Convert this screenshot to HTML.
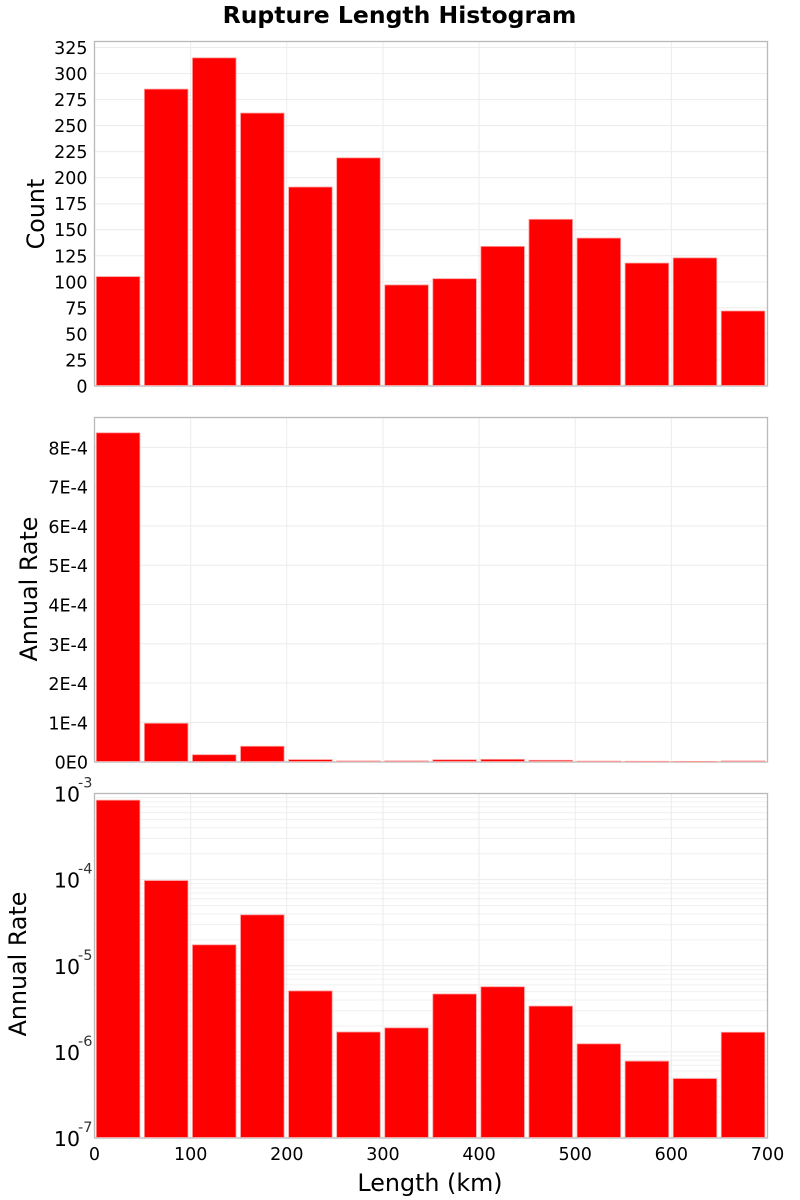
<!DOCTYPE html>
<html lang="en">
<head>
<meta charset="utf-8">
<title>Rupture Length Histogram</title>
<style>
html,body{margin:0;padding:0;background:#fff;}
#chart{display:block;width:800px;height:1200px;font-family:"DejaVu Sans","Liberation Sans",sans-serif;}
</style>
</head>
<body>
<svg id="chart" xmlns="http://www.w3.org/2000/svg" width="800" height="1200" viewBox="0 0 800 1200"></svg>
<script>
var binStarts = [0, 50, 100, 150, 200, 250, 300, 350, 400, 450, 500, 550, 600, 650];
var countValues = [105, 285, 315, 262, 191, 219, 97, 103, 134, 160, 142, 118, 123, 72];
var rateValues = [8.37e-4, 9.75e-5, 1.75e-5, 3.9e-5, 5.1e-6, 1.7e-6, 1.9e-6, 4.7e-6, 5.7e-6, 3.4e-6, 1.24e-6, 7.8e-7, 4.9e-7, 1.69e-6];
var xTicks = [0, 100, 200, 300, 400, 500, 600, 700];
var countTicks = [0, 25, 50, 75, 100, 125, 150, 175, 200, 225, 250, 275, 300, 325];
var rateTicks = [0, 1e-4, 2e-4, 3e-4, 4e-4, 5e-4, 6e-4, 7e-4, 8e-4];
var rateTickLabels = ['0E0', '1E-4', '2E-4', '3E-4', '4E-4', '5E-4', '6E-4', '7E-4', '8E-4'];
var logDecades = [-7, -6, -5, -4, -3];
var logMinors = [2, 3, 4, 5, 6, 7, 8, 9];

var NS = 'http://www.w3.org/2000/svg';
var svg = document.getElementById('chart');
var LEFT = 94.5, RIGHT = 767.5, XMAX = 700;
var GRID = '#ececec', MINOR = '#f0f0f0', FRAME = '#b9b9b9';
var BAR_INSET = 1.9, BAR_W = 45.3;

function xScale(v) { return LEFT + (v / XMAX) * (RIGHT - LEFT); }
function linearY(top, bottom, max) {
  return function (v) { return bottom - (v / max) * (bottom - top); };
}
function logY(top, bottom, minExp, maxExp) {
  return function (v) {
    return bottom - ((Math.log(v) / Math.LN10 - minExp) / (maxExp - minExp)) * (bottom - top);
  };
}
function make(tag, attrs, parent) {
  var el = document.createElementNS(NS, tag);
  for (var k in attrs) { el.setAttribute(k, attrs[k]); }
  parent.appendChild(el);
  return el;
}
function group(parent, name) {
  var g = make('g', {}, parent);
  
  
  return g;
}
function hLine(parent, y, color, name) {
  var l = make('line', { x1: LEFT, x2: RIGHT, y1: y, y2: y, stroke: color, 'stroke-width': 1 }, parent);
  
  
}
function vGrid(parent, top, bottom) {
  xTicks.forEach(function (t) {
    if (t === 0 || t === XMAX) { return; }
    var l = make('line', { x1: xScale(t), x2: xScale(t), y1: top, y2: bottom, stroke: GRID, 'stroke-width': 1 }, parent);
    
    
  });
}
function bars(parent, values, y, baseY) {
  values.forEach(function (v, i) {
    var x = xScale(binStarts[i] + BAR_INSET);
    var w = xScale(binStarts[i] + BAR_INSET + BAR_W) - x;
    var top = y(v);
    var r = make('rect', { x: x, y: top, width: w, height: Math.max(baseY - top, 0.4), fill: '#ff0000', stroke: '#ff9a9a', 'stroke-width': 0.8 }, parent);
    
    
  });
}
function frame(parent, top, bottom) {
  var r = make('rect', { x: LEFT, y: top, width: RIGHT - LEFT, height: bottom - top, fill: 'none', stroke: FRAME, 'stroke-width': 1.3 }, parent);
  
  
}
function label(parent, x, y, text, size, anchor, name) {
  var t = make('text', { x: x, y: y, 'font-size': size, 'text-anchor': anchor, fill: '#000' }, parent);
  t.textContent = text;
  
  
  return t;
}
function yTitle(parent, x, cy, text, name) {
  var t = label(parent, x, cy, text, 23.8, 'middle', name);
  t.setAttribute('transform', 'rotate(-90 ' + x + ' ' + cy + ')');
}

/* Title */
var title = label(svg, 399.5, 23, 'Rupture Length Histogram', 23.5, 'middle', 'chart-title');
title.setAttribute('font-weight', 'bold');

/* Panel 1: count */
var p1 = group(svg, 'count-panel');
var P1_TOP = 41.5, P1_BOTTOM = 386;
var y1 = linearY(P1_TOP, P1_BOTTOM, 330.7);
countTicks.forEach(function (t) {
  if (t !== 0) { hLine(p1, y1(t), GRID, 'count-gridline'); }
});
vGrid(p1, P1_TOP, P1_BOTTOM);
frame(p1, P1_TOP, P1_BOTTOM);
bars(p1, countValues, y1, P1_BOTTOM - 0.6);
countTicks.forEach(function (t) {
  label(p1, 87.5, y1(t) + 6.5, String(t), 17.5, 'end', 'count-tick-label');
});
yTitle(p1, 44, 214, 'Count', 'count-axis-title');

/* Panel 2: linear rate */
var p2 = group(svg, 'linear-rate-panel');
var P2_TOP = 417.5, P2_BOTTOM = 762;
var y2 = linearY(P2_TOP, P2_BOTTOM - 0.4, 8.76e-4);
rateTicks.forEach(function (t) {
  if (t !== 0) { hLine(p2, y2(t), GRID, 'rate-gridline'); }
});
vGrid(p2, P2_TOP, P2_BOTTOM);
frame(p2, P2_TOP, P2_BOTTOM);
bars(p2, rateValues, y2, P2_BOTTOM - 0.6);
rateTicks.forEach(function (t, i) {
  label(p2, 88, y2(t) + 7, rateTickLabels[i], 17.5, 'end', 'rate-tick-label');
});
yTitle(p2, 37, 589, 'Annual Rate', 'linear-rate-axis-title');

/* Panel 3: log rate */
var p3 = group(svg, 'log-rate-panel');
var P3_TOP = 793.5, P3_BOTTOM = 1138;
var y3 = logY(P3_TOP, P3_BOTTOM, -7, -3);
logDecades.forEach(function (d) {
  hLine(p3, y3(Math.pow(10, d)), GRID, 'log-decade-gridline');
  if (d < -3) {
    logMinors.forEach(function (m) {
      hLine(p3, y3(m * Math.pow(10, d)), MINOR, 'log-minor-gridline');
    });
  }
});
vGrid(p3, P3_TOP, P3_BOTTOM);
frame(p3, P3_TOP, P3_BOTTOM);
bars(p3, rateValues, y3, P3_BOTTOM - 0.6);
logDecades.forEach(function (d) {
  var y = y3(Math.pow(10, d));
  label(p3, 80, y + 8, '10', 20.5, 'end', 'log-tick-base');
  var sup = label(p3, 78, y - 6, String(d), 14.5, 'start', 'log-tick-exponent');
  sup.setAttribute('fill', '#333');
});
yTitle(p3, 26, 964, 'Annual Rate', 'log-rate-axis-title');

/* X axis */
var xAxis = group(svg, 'x-axis');
xTicks.forEach(function (t) {
  label(xAxis, xScale(t), 1160, String(t), 17.5, 'middle', 'x-tick-label');
});
label(xAxis, 430, 1191, 'Length (km)', 23.8, 'middle', 'x-axis-title');
</script>
</body>
</html>
